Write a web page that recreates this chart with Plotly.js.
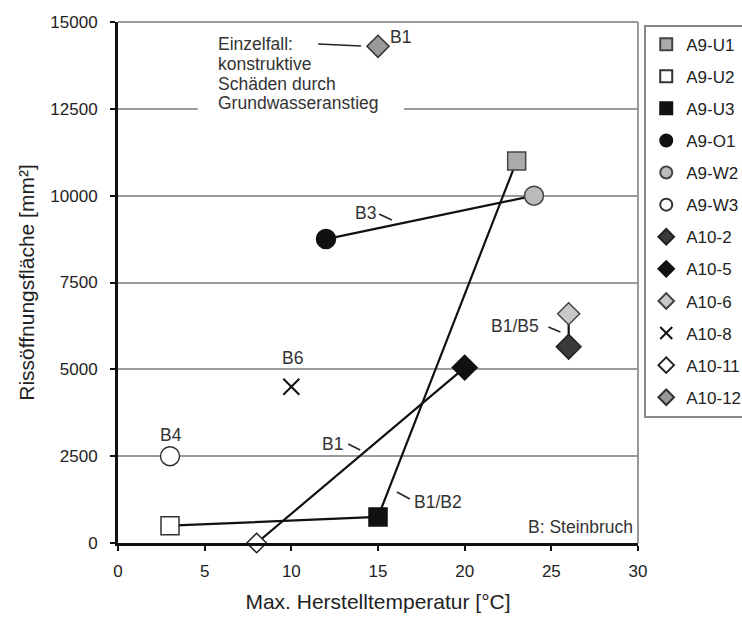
<!DOCTYPE html>
<html>
<head>
<meta charset="utf-8">
<script src="https://cdn.plot.ly/plotly-3.0.1.min.js"></script>
<style>html,body{margin:0;padding:0;background:#fff;}#chart{width:742px;height:621px;}</style>
</head>
<body>
<div id="chart"></div>
<script>
// ---- data ----
const seriesNames = ["A9-U1","A9-U2","A9-U3","A9-O1","A9-W2","A9-W3","A10-2","A10-5","A10-6","A10-8","A10-11","A10-12"];
const maxTemp     = [23, 3, 15, 12, 24, 3, 26, 20, 26, 10, 8, 15];          // °C
const crackArea   = [11000, 500, 750, 8750, 10000, 2500, 5650, 5050, 6600, 4500, 0, 14300]; // mm²
// groups connected by lines (same quarry)
const links = [["A9-U2","A9-U3","A9-U1"], ["A9-O1","A9-W2"], ["A10-11","A10-5"], ["A10-2","A10-6"]];
const xTicks = [0,5,10,15,20,25,30];
const yTicks = [0,2500,5000,7500,10000,12500,15000];
const noteLines = ["Einzelfall:", "konstruktive", "Schäden durch", "Grundwasseranstieg"];

// ---- styles ----
const styles = {
  "A9-U1":  {symbol:"square",      size:18, color:"#aaaaaa", line:"#444"},
  "A9-U2":  {symbol:"square",      size:18, color:"#ffffff", line:"#333"},
  "A9-U3":  {symbol:"square",      size:18, color:"#111111", line:"#111"},
  "A9-O1":  {symbol:"circle",      size:19, color:"#111111", line:"#111"},
  "A9-W2":  {symbol:"circle",      size:19, color:"#bbbbbb", line:"#444"},
  "A9-W3":  {symbol:"circle",      size:19, color:"#ffffff", line:"#333"},
  "A10-2":  {symbol:"diamond",     size:19, color:"#3a3a3a", line:"#222"},
  "A10-5":  {symbol:"diamond",     size:19, color:"#111111", line:"#111"},
  "A10-6":  {symbol:"diamond",     size:17, color:"#c8c8c8", line:"#444"},
  "A10-8":  {symbol:"x-thin-open", size:16, color:"#111111", line:"#111"},
  "A10-11": {symbol:"diamond",     size:15, color:"#ffffff", line:"#222"},
  "A10-12": {symbol:"diamond",     size:17, color:"#999999", line:"#333"}
};

const idx = n => seriesNames.indexOf(n);
const traces = [];
links.forEach(g => {
  traces.push({
    x: g.map(n => maxTemp[idx(n)]),
    y: g.map(n => crackArea[idx(n)]),
    mode: "lines", type: "scatter", showlegend: false, hoverinfo: "skip",
    line: {color: "#111", width: 2.2}, cliponaxis: false
  });
});
seriesNames.forEach((n, i) => {
  const s = styles[n];
  traces.push({
    x: [maxTemp[i]], y: [crackArea[i]], name: n, legendgroup: n,
    mode: "markers", type: "scatter", cliponaxis: false,
    marker: {symbol: s.symbol, size: s.size, color: s.color,
             line: {color: s.line, width: s.symbol === "x-thin-open" ? 2 : 1.5}}
  });
});

const txtFont = {family: "Liberation Sans, Arial, sans-serif", size: 17.5, color: "#333"};
const lbl = (x, y, t, xa) => ({x, y, text: t, showarrow: false, xanchor: xa || "center", yanchor: "middle", font: txtFont});
const noteY = [14367, 13791, 13215, 12668];
const annotations = noteLines.map((t, i) => lbl(5.63, noteY[i], t, "left")).concat([
  lbl(16.3, 14568, "B1"),
  lbl(14.25, 9501, "B3"),
  lbl(10.06, 5326, "B6"),
  lbl(3.05, 3109, "B4"),
  lbl(12.36, 2850, "B1"),
  lbl(18.45, 1180, "B1/B2"),
  lbl(22.9, 6248, "B1/B5"),
  lbl(29.85, 460, "B: Steinbruch", "right")
]);
const seg = (x0, y0, x1, y1) => ({type: "line", x0, y0, x1, y1, xref: "x", yref: "y", line: {color: "#222", width: 1.5}});
const shapes = [
  {type: "rect", xref: "x", yref: "y", x0: 4.6, x1: 16.5, y0: 12100, y1: 12900, fillcolor: "#fff", line: {width: 0}, layer: "between"},
  seg(11.55, 14367, 14.02, 14309),
  seg(15.06, 9472, 15.80, 9299),
  seg(13.28, 2850, 13.97, 2677),
  seg(16.09, 1468, 16.84, 1267),
  seg(24.83, 6219, 25.52, 6075),
  {type: "line", xref: "paper", yref: "paper", x0: 0, x1: 1, y0: 1, y1: 1, line: {color: "#999", width: 2}},
  {type: "line", xref: "paper", yref: "paper", x0: 1, x1: 1, y0: 0, y1: 1, line: {color: "#999", width: 2}}
];

const layout = {
  width: 742, height: 621,
  margin: {l: 118, r: 104, t: 22, b: 78, autoexpand: false},
  paper_bgcolor: "#fff", plot_bgcolor: "#fff",
  font: {family: "Liberation Sans, Arial, sans-serif", size: 17, color: "#222"},
  xaxis: {range: [0, 30], tickvals: xTicks, ticktext: xTicks.map(String), showgrid: false, zeroline: false,
          showline: true, linecolor: "#111", linewidth: 3, ticks: "outside", ticklen: 5, tickwidth: 2, tickcolor: "#111",
          ticklabelstandoff: 6, tickfont: {size: 17, color: "#222"},
          title: {text: "Max. Herstelltemperatur [°C]", font: {size: 21, color: "#222"}, standoff: 14}},
  yaxis: {range: [0, 15000], tickvals: yTicks, ticktext: yTicks.map(String), showgrid: true, gridcolor: "#9a9a9a", gridwidth: 2,
          zeroline: false, showline: true, linecolor: "#111", linewidth: 3, ticks: "outside", ticklen: 5, tickwidth: 2, tickcolor: "#111",
          ticklabelstandoff: 9, tickfont: {size: 17, color: "#222"},
          title: {text: "Rissöffnungsfläche [mm²]", font: {size: 21, color: "#222"}, standoff: 10}},
  legend: {x: 1.012, y: 0.995, xanchor: "left", yanchor: "top", bgcolor: "#fff", bordercolor: "#888", borderwidth: 2,
           font: {size: 17, color: "#222"}, traceorder: "grouped", tracegroupgap: 7, itemwidth: 30, itemsizing: "constant"},
  annotations, shapes, showlegend: true
};
Plotly.newPlot("chart", traces, layout, {staticPlot: true, displayModeBar: false});
</script>
</body>
</html>
